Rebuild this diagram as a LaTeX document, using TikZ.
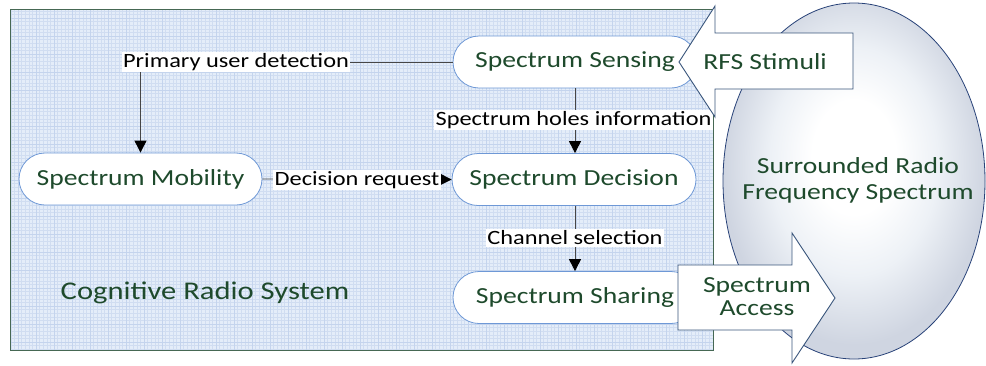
\documentclass[tikz,border=0pt]{standalone}
\usepackage{fontspec}
\setmainfont{Carlito}[FakeStretch=1.2]
\usetikzlibrary{arrows.meta}

\definecolor{txtgreen}{RGB}{30,74,44}
\definecolor{framegreen}{RGB}{70,104,84}
\definecolor{gridbg}{RGB}{228,237,249}
\definecolor{gridminor}{RGB}{208,221,241}
\definecolor{gridmajor}{RGB}{196,212,237}
\definecolor{nodeblue}{RGB}{110,152,214}
\definecolor{arrowblue}{RGB}{58,86,124}
\definecolor{ellipseblue}{RGB}{40,66,120}
\definecolor{ellipsemid}{RGB}{237,241,246}
\definecolor{ellipseout}{RGB}{207,213,225}
\definecolor{linegray}{RGB}{70,70,70}

% soft glow for the spectrum ellipse, brightest slightly above the middle
\pgfdeclareradialshading{spectrumglow}{\pgfpoint{0bp}{4bp}}{%
  color(0bp)=(white); color(8bp)=(white);
  color(16bp)=(ellipsemid);
  color(25bp)=(ellipseout); color(50bp)=(ellipseout)}

\tikzset{
  stage/.style={draw=nodeblue, line width=0.8pt, fill=white,
    rounded corners=26pt, minimum width=244pt, minimum height=52pt,
    inner sep=0pt, text=txtgreen, font=\fontsize{23}{26}\selectfont},
  flowlabel/.style={fill=white, inner sep=1.5pt, text=black,
    font=\fontsize{20.3}{22}\selectfont},
  bigtext/.style={text=txtgreen, align=center, inner sep=0pt,
    font=\fontsize{23}{26}\selectfont},
  flow/.style={draw=linegray, line width=0.9pt},
  flowarrow/.style={flow, -{Triangle[width=12pt,length=12pt,color=black]}},
  blockarrow/.style={draw=arrowblue, line width=0.9pt, fill=white, line join=miter}
}

\begin{document}
\begin{tikzpicture}[x=1pt, y=-1pt]
  \useasboundingbox (0,0) rectangle (986,365);

  % system frame with fine grid
  \fill[gridbg] (10,9) rectangle (713,350);
  \begin{scope}
    \clip (10,9) rectangle (713,350);
    \draw[gridminor, line width=0.35pt, step=3.6pt] (10,9) grid (713,350);
    \draw[gridmajor, line width=0.45pt, step=18pt] (10,9) grid (713,350);
  \end{scope}
  \draw[framegreen, line width=1pt] (10,9) rectangle (713,350);

  % surrounding spectrum
  \path[draw=ellipseblue, line width=0.8pt, shading=spectrumglow]
        (854,181) ellipse [x radius=131, y radius=178];
  \node[bigtext] (srfs) at (858,180) {Surrounded Radio\\Frequency Spectrum};

  \node[bigtext, font=\fontsize{25.5}{28}\selectfont] (crs) at (205,293) {Cognitive Radio System};

  % stages
  \node[stage] (sense) at (575,62) {Spectrum Sensing};
  \node[stage, minimum width=243pt] (mob) at (140.5,179) {Spectrum Mobility};
  \node[stage] (dec) at (574,179.5) {Spectrum Decision};
  \node[stage] (share) at (575,297.5) {Spectrum Sharing};

  % flows between stages
  \draw[flowarrow] (sense.west) -| (mob.north);
  \draw[flowarrow] (sense.south -| 575,0) -- (dec.north -| 575,0);
  \draw[flowarrow] (mob.east) -- (dec.west);
  \draw[flowarrow] (dec.south -| 575,0) -- (share.north -| 575,0);

  \node[flowlabel] (lpud) at (236,62) {Primary user detection};
  \node[flowlabel] (lshi) at (573.5,120) {Spectrum holes information};
  \node[flowlabel] (ldr)  at (357,180) {Decision request};
  \node[flowlabel] (lcs)  at (575,238) {Channel selection};

  % stimulus entering and access leaving
  \draw[blockarrow] (853,33) -- (715,33) -- (715,6) -- (679,62)
        -- (715,117) -- (715,89) -- (853,89) -- cycle;
  \node[bigtext] (rfs) at (765,62) {RFS Stimuli};

  \draw[blockarrow] (678,265) -- (792,265) -- (792,233) -- (835,298)
        -- (792,363) -- (792,330) -- (678,330) -- cycle;
  \node[bigtext, font=\fontsize{23}{23}\selectfont] (acc) at (757,297) {Spectrum\\Access};
\end{tikzpicture}
\end{document}
